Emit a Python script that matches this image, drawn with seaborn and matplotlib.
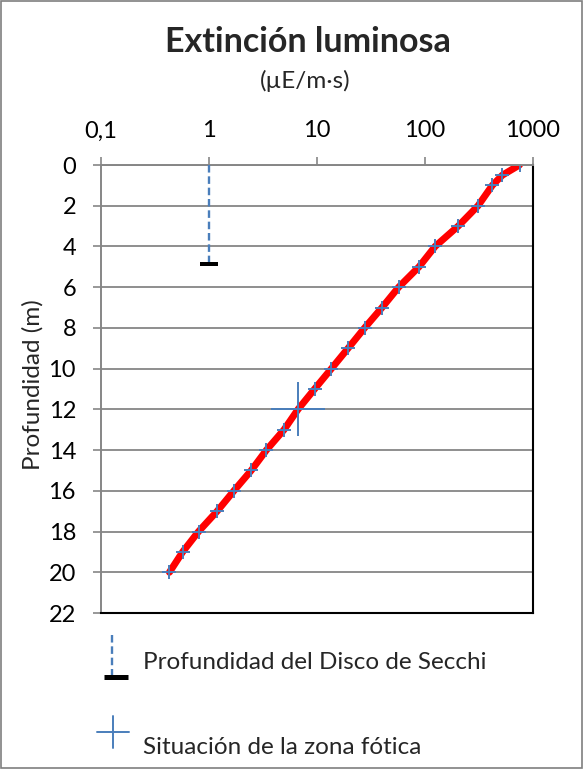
import numpy as np
import pandas as pd
import matplotlib
matplotlib.use("Agg")
import matplotlib.pyplot as plt
from matplotlib.lines import Line2D
from matplotlib.patches import Rectangle
from matplotlib.path import Path
import seaborn as sns

# Light intensity profile (µE/m·s) against depth (m)
depth = [0, 0.5, 1, 2, 3, 4, 5, 6, 7, 8, 9, 10, 11, 12, 13, 14, 15, 16, 17, 18, 19, 20]
light = [750, 520, 420, 310, 203, 124, 88, 57, 40, 27.6, 19.4, 13.6, 9.5, 6.67,
         4.95, 3.4, 2.46, 1.70, 1.19, 0.80, 0.57, 0.43]

# Secchi disk reading and photic-zone marker
secchi_x = [1]
secchi_depth = [4.85]
photic_x = [6.67]
photic_depth = [12]

x_ticks = [0.1, 1, 10, 100, 1000]
x_tick_labels = ["0,1", "1", "10", "100", "1000"]
y_ticks = list(range(0, 23, 2))

title = "Extinción luminosa"
subtitle = "(µE/m·s)"
y_label = "Profundidad (m)"
legend_labels = ["Profundidad del Disco de Secchi", "Situación de la zona fótica"]

BLUE = "#4A7EBB"
RED = "#FF0000"
GRID = "#868686"

sns.set_theme(style="white")
plt.rcParams["font.family"] = ["Lato", "DejaVu Sans"]

W, H = 583, 769
fig = plt.figure(figsize=(W / 100, H / 100), dpi=100)


def fx(px):
    return px / W


def fy(py):
    return 1 - py / H


ax = fig.add_axes([fx(101), fy(613), fx(533) - fx(101), fy(165) - fy(613)])

df = pd.DataFrame({"light": light, "depth": depth})
sns.lineplot(data=df, x="light", y="depth", sort=False, ax=ax, color=RED, lw=5.0,
             marker="+", markersize=10, markeredgewidth=1.4,
             markeredgecolor=BLUE, markerfacecolor=BLUE)

# Secchi disk: dashed drop line from surface and a flat black bar
for sx, sd in zip(secchi_x, secchi_depth):
    ax.plot([sx, sx], [0, sd], color=BLUE, lw=1.7, ls=(0, (3.2, 1.6)), zorder=3)
bar = Path([(-1, -0.26), (1, -0.26), (1, 0.26), (-1, 0.26), (-1, -0.26)],
           [Path.MOVETO, Path.LINETO, Path.LINETO, Path.LINETO, Path.CLOSEPOLY])
ax.plot(secchi_x, secchi_depth, ls="none", marker=bar, markersize=13.5,
        color="black", markeredgewidth=0, zorder=4)

# Photic zone limit
ax.plot(photic_x, photic_depth, ls="none", marker="+", markersize=39,
        markeredgewidth=1.4, color=BLUE, zorder=4)

ax.set_xscale("log")
ax.set_xlim(0.1, 1000)
ax.set_ylim(22, 0)
ax.set_xticks(x_ticks)
ax.set_xticklabels(x_tick_labels)
ax.xaxis.set_minor_locator(matplotlib.ticker.NullLocator())
ax.set_yticks(y_ticks)
ax.xaxis.tick_top()
ax.set_xlabel("")
ax.set_ylabel("")

ax.yaxis.grid(True, color=GRID, lw=1.3)
ax.xaxis.grid(False)
ax.set_axisbelow(True)

for side in ["left", "top"]:
    ax.spines[side].set_color(GRID)
    ax.spines[side].set_linewidth(1.4)
for side in ["right", "bottom"]:
    ax.spines[side].set_color("black")
    ax.spines[side].set_linewidth(1.5)

ax.tick_params(axis="x", which="major", direction="out", length=6, width=1.2,
               color=GRID, pad=11, labelsize=17, labelcolor="black", top=True, bottom=False)
ax.tick_params(axis="y", which="major", direction="out", length=6, width=1.2,
               color=GRID, pad=12, labelsize=17, labelcolor="black", left=True)

fig.text(fx(33), fy(385), y_label, rotation=90, ha="center", va="center", fontsize=17.5)

fig.text(fx(308), fy(52), title, ha="center", va="baseline", fontsize=24.5, fontweight="bold")
fig.text(fx(305), fy(88), subtitle, ha="center", va="baseline", fontsize=17.5)

# Legend, drawn in figure coordinates
leg1 = [Line2D([fx(112), fx(112)], [fy(635), fy(675)], color=BLUE, lw=1.7,
               ls=(0, (3.2, 1.6)), transform=fig.transFigure),
        Line2D([fx(104), fx(128)], [fy(677), fy(677)], color="black", lw=3.6,
               solid_capstyle="butt", transform=fig.transFigure)]
leg2 = [Line2D([fx(97), fx(129)], [fy(732), fy(732)], color=BLUE, lw=1.4,
               transform=fig.transFigure),
        Line2D([fx(113), fx(113)], [fy(716), fy(748)], color=BLUE, lw=1.4,
               transform=fig.transFigure)]
for artist in leg1 + leg2:
    fig.add_artist(artist)
fig.text(fx(143), fy(669), legend_labels[0], ha="left", va="baseline", fontsize=17.5)
fig.text(fx(143), fy(754), legend_labels[1], ha="left", va="baseline", fontsize=17.5)

fig.add_artist(Rectangle((fx(1), fy(768)), fx(581), fy(1) - fy(768), fill=False,
                         edgecolor="#7F7F7F", lw=1.2, transform=fig.transFigure))

fig.savefig("out.png", dpi=100)
